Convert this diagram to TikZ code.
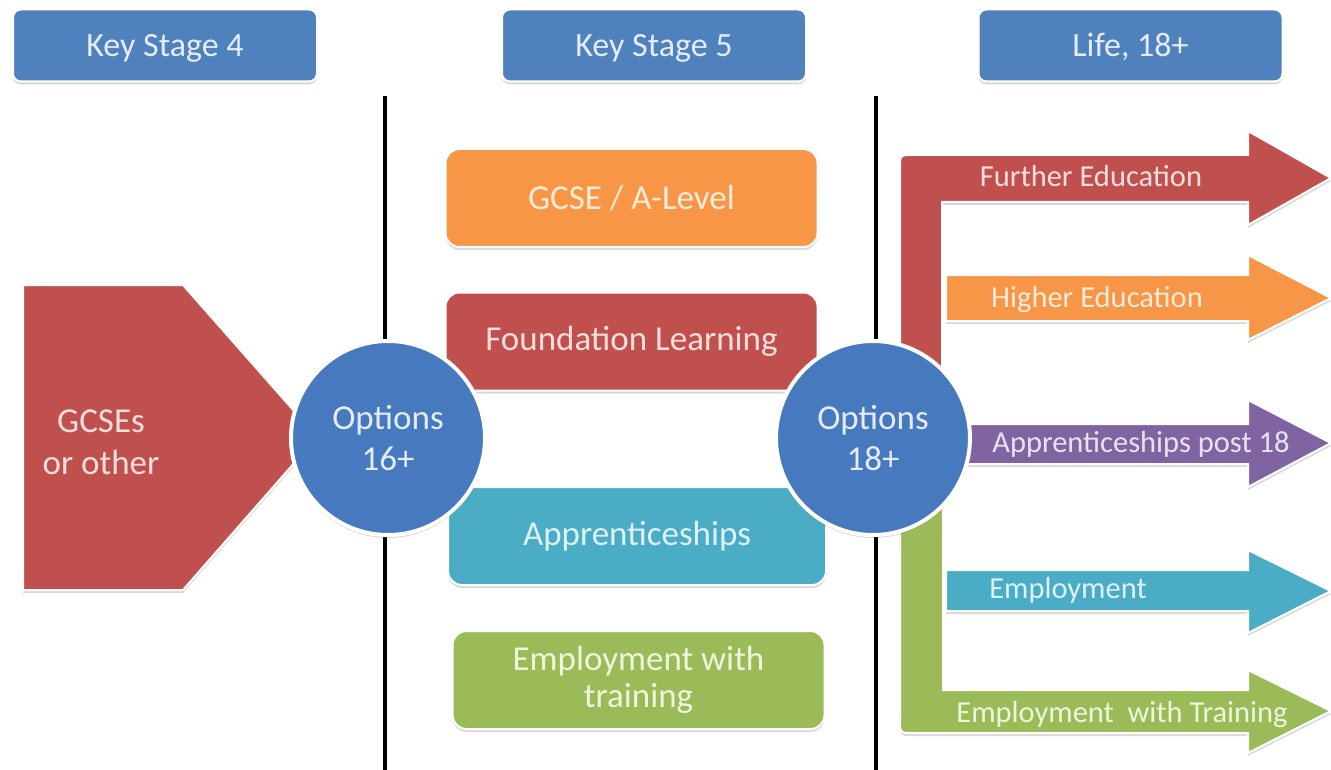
\documentclass[tikz,border=0pt]{standalone}
\usepackage{fontspec}
\setmainfont{Carlito}
\usetikzlibrary{shadows}
\definecolor{hblue}{HTML}{4F81BD}
\definecolor{cblue}{HTML}{4679BD}
\definecolor{ored}{HTML}{C0504D}
\definecolor{oorange}{HTML}{F79646}
\definecolor{oteal}{HTML}{4BACC6}
\definecolor{ogreen}{HTML}{9BBB59}
\definecolor{opurple}{HTML}{8064A2}
\definecolor{tred}{HTML}{F6DEDD}
\definecolor{torange}{HTML}{FDEBD9}
\definecolor{tteal}{HTML}{DDF1F6}
\definecolor{tgreen}{HTML}{EEF5DC}
\definecolor{tpurple}{HTML}{E8E2F0}
\definecolor{tblue}{HTML}{E4ECF7}
\tikzset{
  shad/.style={drop shadow={shadow xshift=0pt,shadow yshift=-3pt,opacity=0.25,fill=black!60}},
  header/.style={shad,rounded corners=8pt,fill=hblue,draw=white,line width=2pt,
    minimum width=304pt,minimum height=72pt,text=tblue,inner sep=0pt,
    text height=28pt,text depth=5pt,
    font=\fontsize{34}{34}\selectfont},
  midbox/.style={shad,rounded corners=14pt,draw=white,line width=2pt,
    minimum width=372pt,minimum height=98pt,inner sep=0pt,align=center,
    font=\fontsize{35}{37}\selectfont},
  optcircle/.style={circle,shad,fill=cblue,draw=white,line width=4pt,
    minimum size=194pt,inner sep=0pt,align=center,text=tblue,
    font=\fontsize{35}{41}\selectfont},
  arrowshape/.style={shad,draw=white,line width=2pt},
  arrowtext/.style={anchor=base,inner sep=0pt,font=\fontsize{30.5}{30}\selectfont},
  divider/.style={line width=4pt,black}
}
\begin{document}
\begin{tikzpicture}[x=1pt,y=-1pt]
\useasboundingbox (0,0) rectangle (1331,770);
\clip (0,0) rectangle (1331,770);
% dividers
\coordinate (d1t) at (385,96);
\coordinate (d1b) at (385,770);
\coordinate (d2t) at (876,96);
\coordinate (d2b) at (876,770);
\draw[divider] (d1t) -- (d1b);
\draw[divider] (d2t) -- (d2b);
% headers
\node[header] (ks4) at (165,45.5) {Key Stage 4};
\node[header] (ks5) at (654,45.5) {Key Stage 5};
\node[header] (life) at (1130.5,45.5) {Life, 18+};
% middle boxes
\node[midbox,fill=oorange,text=torange] (alevel) at (631.5,198) {GCSE / A-Level};
\node[midbox,fill=ored,text=tred] (found) at (631.5,341.5) {Foundation Learning};
\node[midbox,fill=oteal,text=tteal,minimum width=378pt] (appr) at (637,536) {Apprenticeships};
\node[midbox,fill=ogreen,text=tgreen] (empt) at (638.5,680) {Employment with\\training};
% left pentagon
\fill[ored,arrowshape] (23,285) -- (183,285) -- (317,437) -- (183,590) -- (23,590) -- cycle;
\node[align=center,text=tred,font=\fontsize{35}{42}\selectfont,inner sep=0pt] (gcses) at (101,442) {GCSEs\\or other};
% right arrows
\fill[ored,arrowshape] (900,440) -- (900,168) .. controls (900,155) .. (913,155) -- (1248,155) -- (1248,131) -- (1331,178) -- (1248,225) -- (1248,202) -- (942,202) -- (942,440) -- cycle;
\fill[oorange,arrowshape] (946,275) -- (1248,275) -- (1248,255) -- (1331,298) -- (1248,340) -- (1248,321) -- (946,321) -- cycle;
\fill[opurple,arrowshape] (900,424) -- (1248,424) -- (1248,400) -- (1331,443) -- (1248,487) -- (1248,464) -- (900,464) -- cycle;
\fill[oteal,arrowshape] (946,570) -- (1248,570) -- (1248,550) -- (1331,591) -- (1248,633) -- (1248,611) -- (946,611) -- cycle;
\fill[ogreen,arrowshape] (943,450) -- (943,690) -- (1248,690) -- (1248,670) -- (1331,711) -- (1248,753) -- (1248,733) -- (913,733) .. controls (900,733) .. (900,720) -- (900,450) -- cycle;
\node[arrowtext,text=tred] (fe) at (1091,187) {Further Education};
\node[arrowtext,text=torange] (he) at (1097,307) {Higher Education};
\node[arrowtext,text=tpurple] (ap18) at (1141,452) {Apprenticeships post 18};
\node[arrowtext,text=tteal] (emp) at (1068,598) {Employment};
\node[arrowtext,text=tgreen] (ewt) at (1122,722) {Employment\ \ with Training};
% option circles
\node[optcircle] (opt16) at (388,438) {Options\\16+};
\node[optcircle] (opt18) at (873,438) {Options\\18+};
\end{tikzpicture}
\end{document}
